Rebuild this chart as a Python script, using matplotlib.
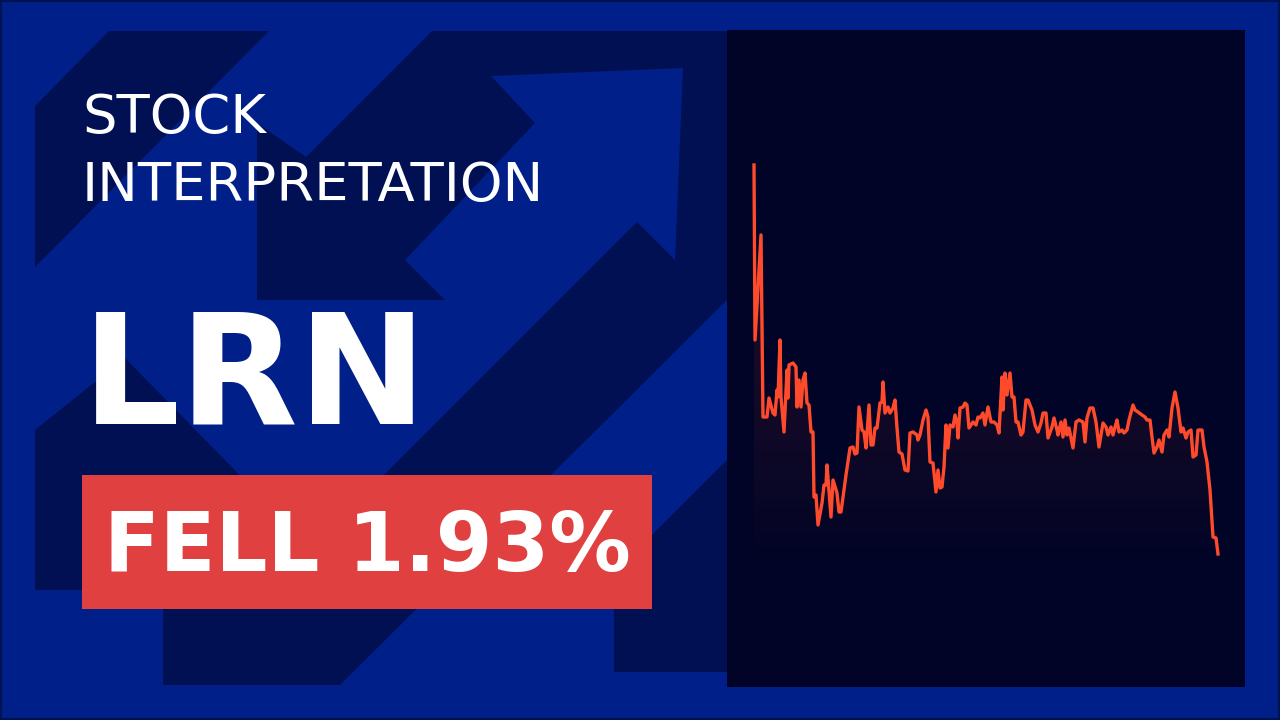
import numpy as np
import matplotlib.pyplot as plt
from matplotlib.patches import Polygon, Rectangle
from matplotlib.colors import to_rgb

# intraday series (t = sample index, price in arbitrary units)
t = [0, 1, 7, 9, 13, 15, 19, 21, 23, 24, 26, 27, 30, 33, 34, 35, 39, 42, 43, 45,
     47, 49, 51, 53, 55, 57, 59, 60, 62, 64, 68, 70, 72, 73, 77, 79, 83, 85, 87, 92,
     96, 99, 101, 103, 105, 108, 110, 112, 115, 117, 119, 121, 123, 126, 128, 129, 131, 134, 136, 139,
     141, 143, 145, 148, 151, 154, 156, 159, 163, 164, 166, 169, 172, 174, 176, 179, 182, 184, 186, 188,
     190, 192, 194, 196, 199, 201, 203, 204, 206, 209, 211, 213, 215, 219, 222, 224, 226, 229, 231, 234,
     237, 240, 243, 245, 248, 249, 251, 253, 256, 258, 260, 262, 264, 267, 269, 272, 274, 278, 281, 284,
     287, 289, 292, 294, 298, 300, 303, 304, 307, 309, 311, 313, 315, 319, 322, 325, 329, 331, 333, 336,
     339, 342, 345, 349, 352, 354, 357, 359, 361, 363, 365, 368, 370, 373, 375, 379, 381, 384, 388, 391,
     393, 396, 398, 400, 403, 405, 408, 410, 413, 415, 418, 421, 424, 427, 429, 432, 434, 437, 439, 442,
     444, 448, 450, 453, 456, 459, 462, 464]
price = [143.5, 126.0, 136.5, 118.3, 118.3, 120.2, 118.7, 118.5, 121.0, 120.3, 126.0, 120.3, 116.8, 123.0, 120.2, 123.5, 123.7, 123.3, 119.3, 122.0,
         119.3, 122.0, 122.7, 119.7, 119.5, 116.8, 116.8, 110.3, 110.5, 107.5, 109.7, 111.5, 111.5, 113.5, 108.3, 112.0, 110.7, 108.8, 108.8, 112.5,
         115.2, 115.3, 114.6, 114.7, 119.3, 117.0, 116.8, 115.2, 119.5, 115.5, 115.5, 117.2, 117.2, 119.7, 119.8, 121.8, 118.7, 119.3, 118.7, 119.2,
         120.0, 117.2, 114.8, 114.6, 113.0, 112.9, 116.7, 116.8, 116.5, 116.0, 116.5, 118.0, 119.0, 118.3, 113.8, 113.7, 110.8, 113.0, 111.2, 111.3,
         113.3, 117.5, 115.2, 117.5, 117.3, 118.5, 117.7, 116.2, 119.2, 119.3, 119.7, 119.5, 117.2, 117.8, 117.5, 118.3, 118.2, 118.7, 117.5, 119.3,
         117.8, 117.8, 117.5, 116.7, 122.3, 119.0, 122.7, 120.5, 122.7, 120.3, 120.3, 117.8, 117.8, 116.5, 116.8, 120.0, 120.0, 119.0, 117.5, 116.8,
         117.7, 118.7, 118.7, 116.2, 117.3, 118.2, 117.0, 116.5, 117.8, 116.3, 118.0, 116.5, 117.2, 115.2, 117.8, 118.0, 117.8, 115.8, 118.2, 119.2,
         119.2, 117.8, 115.3, 117.7, 117.3, 116.5, 117.3, 116.5, 117.3, 118.0, 116.8, 117.0, 116.7, 117.0, 118.0, 119.5, 119.0, 118.8, 118.5, 118.3,
         118.0, 118.0, 116.3, 114.7, 115.3, 116.0, 114.8, 116.5, 117.0, 116.3, 119.2, 120.8, 119.2, 116.8, 117.2, 116.2, 116.8, 117.0, 114.3, 114.5,
         117.0, 117.0, 115.3, 113.8, 111.0, 106.3, 106.2, 104.6]

ticker = "LRN"
headline = ["STOCK", "INTERPRETATION"]
change_text = "FELL 1.93%"

BLUE = "#001f89"
DARK = "#001052"
PANEL = "#010426"
LINE = "#ff4b2b"
RED = "#e04040"

fig = plt.figure(figsize=(12.8, 7.2), dpi=100)
fig.patch.set_facecolor(BLUE)

# background layer in pixel coordinates
bg = fig.add_axes([0, 0, 1, 1])
bg.set_xlim(0, 1280)
bg.set_ylim(720, 0)
bg.axis("off")

arrow_a = [(35, 106), (109, 31), (269, 31), (35, 267)]
arrow_b = [(432, 31), (730, 31), (730, 297), (340, 685), (163, 685), (163, 590),
           (35, 590), (35, 430), (125, 358), (311, 548), (637, 222), (675, 260),
           (683, 68), (491, 76), (535, 123), (405, 260), (445, 300), (257, 300),
           (257, 123), (306, 157)]
arrow_c = [(614, 573), (730, 457), (730, 672), (614, 672)]
for pts in (arrow_a, arrow_b, arrow_c):
    bg.add_patch(Polygon(pts, closed=True, facecolor=DARK, edgecolor="none"))

bg.add_patch(Rectangle((1, 1), 1278, 718, facecolor="none", edgecolor="#00124f", lw=1.5))

# headline texts
bg.text(82, 133, headline[0], color="white", fontsize=39.2, va="baseline", ha="left")
bg.text(82, 201, headline[1], color="white", fontsize=39.2, va="baseline", ha="left")
bg.text(82, 423, ticker, color="white", fontsize=111, fontweight="bold", va="baseline", ha="left")
bg.add_patch(Rectangle((82, 475), 570, 134, facecolor=RED, edgecolor="none"))
bg.text(104, 571, change_text, color="white", fontsize=58.7, fontweight="bold", va="baseline", ha="left")

# price panel
ax = fig.add_axes([727 / 1280, 1 - 687 / 720, 518 / 1280, 657 / 720])
ax.set_facecolor(PANEL)
ax.set_xlim(-27, 491)
ax.set_ylim(91.3, 157.0)
for s in ax.spines.values():
    s.set_visible(False)
ax.set_xticks([])
ax.set_yticks([])

base = 103.5
top = max(price)
fill = ax.fill_between(t, price, base, facecolor="none", edgecolor="none")
grad = np.zeros((256, 1, 4))
grad[:, 0, :3] = to_rgb(LINE)
grad[:, 0, 3] = np.linspace(0.0, 0.15, 256) ** 0.8 * 0.15 / 0.15 ** 0.8
img = ax.imshow(grad, extent=[t[0], t[-1], base, top], origin="lower",
                aspect="auto", zorder=1, interpolation="bilinear")
img.set_clip_path(fill.get_paths()[0], transform=ax.transData)

ax.plot(t, price, color=LINE, lw=2.4, zorder=3, solid_joinstyle="round")

fig.savefig("out.png", dpi=100, facecolor=fig.get_facecolor())
